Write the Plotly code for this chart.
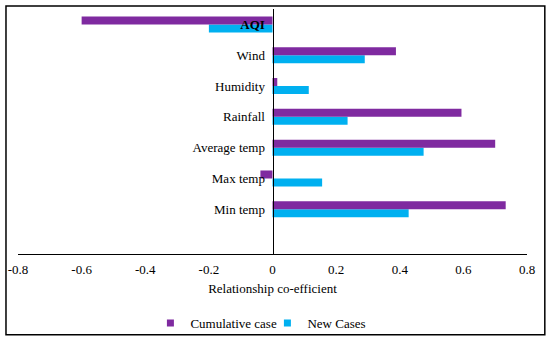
import plotly.graph_objects as go

categories = ["Min temp", "Max temp", "Average temp", "Rainfall", "Humidity", "Wind", "AQI"]
tick_labels = ["Min temp", "Max temp", "Average temp", "Rainfall", "Humidity", "Wind", "<b>AQI</b>"]
cumulative = [0.733, -0.038, 0.70, 0.594, 0.015, 0.388, -0.60]
new_cases = [0.428, 0.156, 0.475, 0.236, 0.114, 0.29, -0.20]
x_ticks = [-0.8, -0.6, -0.4, -0.2, 0, 0.2, 0.4, 0.6, 0.8]

PURPLE = "#7F2AA0"
BLUE = "#00B0F0"
SERIF = "Liberation Serif, serif"
font = dict(family=SERIF, size=13, color="#000000")

fig = go.Figure()
fig.add_trace(go.Bar(y=categories, x=new_cases, orientation="h", name="New Cases",
                     marker=dict(color=BLUE, line=dict(width=0)), showlegend=False))
fig.add_trace(go.Bar(y=categories, x=cumulative, orientation="h", name="Cumulative case",
                     marker=dict(color=PURPLE, line=dict(width=0)), showlegend=False))
# legend entries (small square swatches like the original)
fig.add_trace(go.Scatter(x=[None], y=[None], mode="markers", name="Cumulative case",
                         marker=dict(symbol="square", size=7, color=PURPLE)))
fig.add_trace(go.Scatter(x=[None], y=[None], mode="markers", name="New Cases",
                         marker=dict(symbol="square", size=7, color=BLUE)))

fig.update_layout(
    width=550, height=341, autosize=False,
    margin=dict(l=18, r=23, t=9, b=87, autoexpand=False),
    paper_bgcolor="white", plot_bgcolor="white",
    font=font,
    barmode="group", bargap=0.48, bargroupgap=0,
    showlegend=True,
    legend=dict(orientation="h", x=0.49, xanchor="center", y=-0.282, yanchor="middle",
                font=dict(family=SERIF, size=13, color="#000000"), itemwidth=30,
                entrywidth=72, entrywidthmode="pixels",
                tracegroupgap=0, bgcolor="rgba(0,0,0,0)"),
    xaxis=dict(range=[-0.8, 0.8], tickvals=x_ticks,
               ticktext=[("%g" % v) for v in x_ticks],
               tickfont=dict(family=SERIF, size=13, color="#000000"),
               showgrid=False, zeroline=False, showline=True, linecolor="#000000", linewidth=1,
               ticks="", ticklabelstandoff=3,
               title=dict(text="Relationship co-efficient", standoff=8,
                          font=dict(family=SERIF, size=13, color="#000000")),
               domain=[0, 1]),
    yaxis=dict(type="category", categoryorder="array", categoryarray=categories,
               tickvals=categories, ticktext=tick_labels,
               tickfont=dict(family=SERIF, size=13, color="#000000"),
               range=[-1.45, 6.5], anchor="free", position=0.5,
               showgrid=False, zeroline=False, showline=True, linecolor="#000000", linewidth=1,
               ticks="", ticklabelstandoff=5),
    shapes=[dict(type="rect", xref="paper", yref="paper", x0=-0.0236, x1=1.035, y0=-0.33, y1=1.012,
                 line=dict(color="#000000", width=1.5), fillcolor="rgba(0,0,0,0)")],
)

fig.write_html("out.html", config={"displayModeBar": False},
               post_script="document.body.style.margin='0';")
